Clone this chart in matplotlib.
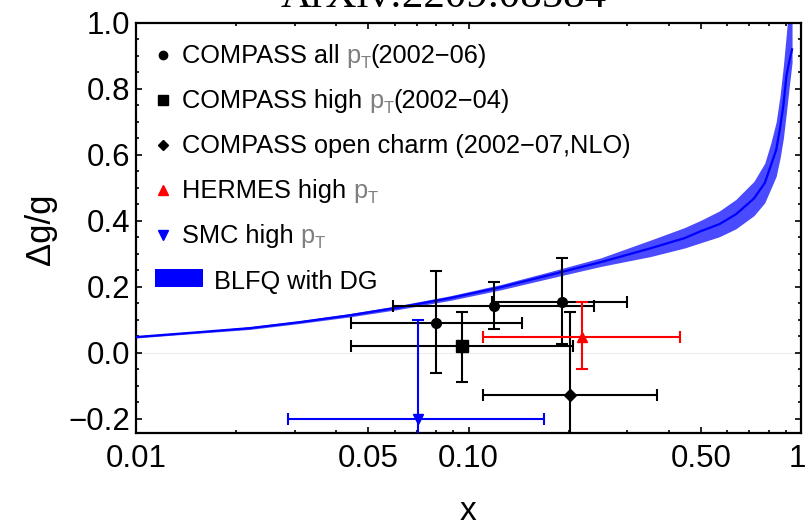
import matplotlib
matplotlib.use("Agg")
import matplotlib.pyplot as plt
import matplotlib.transforms as mtransforms
import numpy as np
from matplotlib.patches import Rectangle
from matplotlib.ticker import FixedLocator, FixedFormatter, NullFormatter

# ---------------- theory band (BLFQ with DG) ----------------
x_th = [0.01, 0.0156, 0.022, 0.031, 0.044, 0.062, 0.088, 0.125, 0.177, 0.25,
        0.353, 0.447, 0.5, 0.568, 0.637, 0.722, 0.778, 0.811, 0.842, 0.865,
        0.885, 0.904, 0.925, 0.94]
dg_center = [0.048, 0.063, 0.075, 0.093, 0.114, 0.138, 0.166, 0.199, 0.237, 0.275,
             0.317, 0.348, 0.369, 0.39, 0.42, 0.468, 0.515, 0.567, 0.615, 0.682,
             0.75, 0.84, 0.89, 0.92]
dg_upper = [0.051, 0.066, 0.079, 0.097, 0.119, 0.144, 0.173, 0.207, 0.247, 0.288,
            0.342, 0.38, 0.402, 0.43, 0.465, 0.52, 0.575, 0.635, 0.70, 0.78,
            0.87, 0.97, 1.08, 1.2]
dg_lower = [0.045, 0.060, 0.071, 0.089, 0.109, 0.132, 0.159, 0.191, 0.227, 0.262,
            0.292, 0.318, 0.334, 0.352, 0.376, 0.416, 0.455, 0.497, 0.535, 0.59,
            0.65, 0.73, 0.82, 0.88]

# ---------------- data points ----------------
# COMPASS all pT (2002-06)
all_x = [0.0801, 0.1197, 0.1906]
all_y = [0.089, 0.142, 0.155]
all_xlo = [0.0443, 0.0593, 0.118]
all_xhi = [0.1444, 0.2385, 0.3006]
all_ylo = [-0.062, 0.072, 0.028]
all_yhi = [0.248, 0.215, 0.287]
# COMPASS high pT (2002-04)
high_x = [0.0953]
high_y = [0.021]
high_xlo = [0.0443]
high_xhi = [0.2067]
high_ylo = [-0.088]
high_yhi = [0.124]
# COMPASS open charm (2002-07, NLO)
charm_x = [0.2015]
charm_y = [-0.128]
charm_xlo = [0.1104]
charm_xhi = [0.370]
charm_ylo = [-0.38]
charm_yhi = [0.124]
# HERMES high pT
herm_x = [0.2189]
herm_y = [0.047]
herm_xlo = [0.1104]
herm_xhi = [0.4331]
herm_ylo = [-0.049]
herm_yhi = [0.155]
# SMC high pT
smc_x = [0.0706]
smc_y = [-0.202]
smc_xlo = [0.02875]
smc_xhi = [0.1686]
smc_ylo = [-0.50]
smc_yhi = [0.099]

x_major = [0.01, 0.05, 0.1, 0.5, 1.0]
x_major_labels = ["0.01", "0.05", "0.10", "0.50", "1"]
x_minor = [0.02, 0.03, 0.04, 0.06, 0.07, 0.08, 0.09, 0.2, 0.3, 0.4, 0.6, 0.7, 0.8, 0.9]
y_major = [-0.2, 0.0, 0.2, 0.4, 0.6, 0.8, 1.0]
y_major_labels = ["\u22120.2", "0.0", "0.2", "0.4", "0.6", "0.8", "1.0"]

SANS = ["Liberation Sans", "DejaVu Sans"]

fig = plt.figure(figsize=(8.08, 5.27), dpi=100)
ax = fig.add_axes([136 / 808, (527 - 433) / 527, 665 / 808, 410 / 527])
ax.set_xscale("log")
ax.set_xlim(0.01, 1.0)
ax.set_ylim(-0.243, 1.0)

ax.axhline(0.0, color="#ececec", lw=0.8, zorder=0)

# band + central line
ax.fill_between(x_th, dg_lower, dg_upper, color="#4a4aff", lw=0, zorder=2)
ax.plot(x_th, dg_center, color="#0000ff", lw=1.6, zorder=3)


def eb(x, y, xlo, xhi, ylo, yhi, color, marker, ms):
    x = np.asarray(x); y = np.asarray(y)
    ax.errorbar(x, y,
                xerr=[x - np.asarray(xlo), np.asarray(xhi) - x],
                yerr=[y - np.asarray(ylo), np.asarray(yhi) - y],
                fmt=marker, color=color, ms=ms, elinewidth=1.5,
                capsize=4.5, capthick=1.5, zorder=5)


eb(all_x, all_y, all_xlo, all_xhi, all_ylo, all_yhi, "black", "o", 7)
eb(high_x, high_y, high_xlo, high_xhi, high_ylo, high_yhi, "black", "s", 8)
eb(charm_x, charm_y, charm_xlo, charm_xhi, charm_ylo, charm_yhi, "black", "D", 6.5)
eb(herm_x, herm_y, herm_xlo, herm_xhi, herm_ylo, herm_yhi, "#ff0000", "^", 7)
eb(smc_x, smc_y, smc_xlo, smc_xhi, smc_ylo, smc_yhi, "#0000ff", "v", 7)

# ticks
ax.xaxis.set_major_locator(FixedLocator(x_major))
ax.xaxis.set_major_formatter(FixedFormatter(x_major_labels))
ax.xaxis.set_minor_locator(FixedLocator(x_minor))
ax.xaxis.set_minor_formatter(NullFormatter())
ax.yaxis.set_major_locator(FixedLocator(y_major))
ax.yaxis.set_major_formatter(FixedFormatter(y_major_labels))
ax.yaxis.set_minor_locator(FixedLocator(np.arange(-0.2, 1.0001, 0.05)))
ax.tick_params(which="both", direction="in", top=True, right=True, width=1.2,
               labelsize=22.5, colors="black")
ax.tick_params(which="major", length=4.5)
ax.tick_params(which="minor", length=2.5)
ax.tick_params(axis="x", pad=8)
ax.tick_params(axis="y", pad=4)
xlabels = ax.get_xticklabels()
for lab in xlabels + ax.get_yticklabels():
    lab.set_family(SANS)
# keep the last x label ("1") inside the canvas
last = xlabels[-1]
last.set_transform(last.get_transform() +
                   mtransforms.ScaledTranslation(-4 / 100, 0, fig.dpi_scale_trans))
for s in ax.spines.values():
    s.set_linewidth(1.6)

# axis labels and title
fig.text(40 / 808, 1 - 229 / 527, "\u0394g/g", rotation=90, ha="center", va="center",
         fontsize=25, family=SANS)
fig.text(468 / 808, 1 - 511 / 527, "x", ha="center", va="center", fontsize=24, family=SANS)
fig.text(444 / 808, 1 - 7 / 527, "ArXiv:2209.08584", ha="center", va="baseline",
         fontsize=31, family=["Liberation Serif", "DejaVu Serif"])

# ---------------- manual legend ----------------
LFS = 18.3
SUBFS = 12
GRAY = "#7f7f7f"


def ax_x(px):
    return (px - 136) / 665


def ax_y(py):
    return (433 - py) / 410


rows_base = [63.3, 108.3, 153.3, 198.3, 243.3]
marker_specs = [("o", "black", 6), ("s", "black", 6.5), ("D", "black", 5),
                ("^", "#ff0000", 6.5), ("v", "#0000ff", 6.5)]
label_specs = [
    [("COMPASS all", "black", LFS, 0, 0), ("p", GRAY, LFS, 5.0, 0),
     ("T", GRAY, SUBFS, 0, -3.6), ("(2002\u221206)", "black", LFS, 0, 0)],
    [("COMPASS high", "black", LFS, 0, 0), ("p", GRAY, LFS, 5.0, 0),
     ("T", GRAY, SUBFS, 0, -3.6), ("(2002\u221204)", "black", LFS, 0, 0)],
    [("COMPASS open charm (2002\u221207,NLO)", "black", LFS, 0, 0)],
    [("HERMES high", "black", LFS, 0, 0), ("p", GRAY, LFS, 5.0, 0),
     ("T", GRAY, SUBFS, 0, -3.6)],
    [("SMC high", "black", LFS, 0, 0), ("p", GRAY, LFS, 5.0, 0),
     ("T", GRAY, SUBFS, 0, -3.6)],
]
for yb, (mk, col, ms), pieces in zip(rows_base, marker_specs, label_specs):
    ax.plot([ax_x(163.3)], [ax_y(yb - 8.5)], marker=mk, color=col, ms=ms,
            transform=ax.transAxes, clip_on=False, zorder=6)
    prev = None
    for s, color, fs, dx, dy in pieces:
        if prev is None:
            t = ax.text(ax_x(182), ax_y(yb), s, transform=ax.transAxes, ha="left",
                        va="baseline", fontsize=fs, color=color, family=SANS)
        else:
            t = ax.annotate(s, xy=(1, ax_y(yb)), xycoords=(prev, "axes fraction"),
                            xytext=(dx, dy), textcoords="offset points",
                            ha="left", va="baseline", fontsize=fs, color=color,
                            family=SANS, annotation_clip=False)
        prev = t

ax.add_patch(Rectangle((ax_x(155), ax_y(287.3)), ax_x(203.3) - ax_x(155),
                       ax_y(269.3) - ax_y(287.3), transform=ax.transAxes,
                       facecolor="#0000ff", edgecolor="none", zorder=6))
ax.text(ax_x(214), ax_y(289.3), "BLFQ with DG", transform=ax.transAxes, ha="left",
        va="baseline", fontsize=LFS, color="black", family=SANS)

fig.savefig("out.png", dpi=100)
